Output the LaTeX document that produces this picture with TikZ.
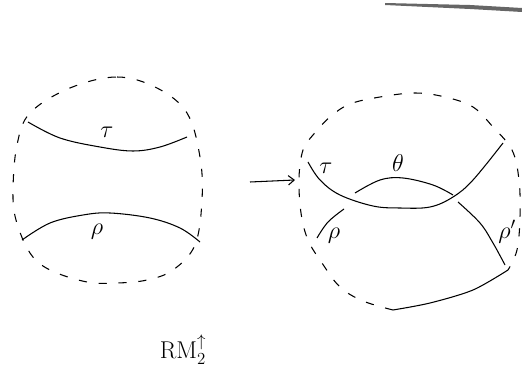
\documentclass[tikz,border=0pt]{standalone}
\usepackage{amsmath}
\usepackage{amssymb}
\usetikzlibrary{arrows.meta}

\begin{document}
\begin{tikzpicture}[x=0.03cm,y=-0.03cm,line width=0.9pt,
    bdry/.style={dash pattern=on 7pt off 10pt},
    lbl/.style={font=\fontsize{22}{24}\selectfont}]
        \useasboundingbox (0,0) rectangle (522,370);
        % smudge at the top
        \fill[gray!80!black] (385,3) -- (470,5) -- (522,8) -- (522,12) -- (470,9) -- (385,5) -- cycle;
        % left disc
        \draw[bdry] plot[smooth cycle,tension=0.6] coordinates {(70,88) (117,77) (157,88) (187,113)
            (200,157) (202,200) (195,245) (173,270) (147,280) (117,283) (87,282) (50,270)
            (30,253) (16,220) (13,190) (17,145) (30,113)};
        \draw plot[smooth,tension=0.6] coordinates {(28,122) (60,138) (100,147) (133,151) (160,147) (187,137)};
        \draw plot[smooth,tension=0.6] coordinates {(22,240) (50,223) (83,215) (110,213) (150,218) (180,228) (200,242)};
        \node[lbl] (tauA) at (107,132) {$\tau$};
        \node[lbl] (rhoA) at (97,232) {$\rho$};
        % arrow
        \coordinate (p) at (250,182); \coordinate (q) at (295,180);
        \draw[-{Straight Barb[length=5pt,width=8pt]}] (p) -- (q);
        % right disc
        \draw[bdry] plot[smooth,tension=0.6] coordinates {(393,310) (363,301) (340,287) (322,263)
            (308,240) (301,213) (299,178) (303,150) (313,135) (330,117) (350,104) (380,97)
            (415,93) (445,97) (473,107) (493,127) (512,150) (519,180) (520,217) (517,250) (508,270)};
        \draw plot[smooth,tension=0.5] coordinates {(393,310) (430,303) (473,290) (508,270)};
        \draw plot[smooth,tension=0.6] coordinates {(308,162) (320,180) (340,195) (373,206) (400,208)
            (430,207) (453,197) (473,180) (503,143)};
        \draw plot[smooth,tension=0.6] coordinates {(355,193) (380,180) (403,178) (433,185) (453,195)};
        \draw plot[smooth,tension=0.6] coordinates {(458,202) (480,223) (493,243) (505,265)};
        \draw plot[smooth,tension=0.6] coordinates {(344,209) (328,222) (317,238)};
        \node[lbl] (tauB) at (326,168) {$\tau$};
        \node[lbl] (thetaB) at (398,163) {$\theta$};
        \node[lbl] (rhoB) at (334,236) {$\rho$};
        \node[lbl] (rhoC) at (507,232) {$\rho'$};
        % move name
        \node[font=\huge] (rm) at (183,350) {$\mathrm{RM}_2^{\uparrow}$};
    \end{tikzpicture}
\end{document}
